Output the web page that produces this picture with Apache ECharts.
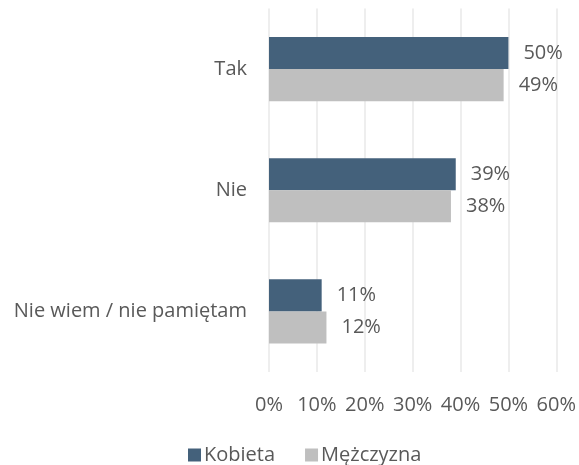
<!DOCTYPE html>
<html><head><meta charset="utf-8">
<script src="https://cdn.jsdelivr.net/npm/echarts@6/dist/echarts.min.js"></script>
<style>html,body{margin:0;padding:0;background:#fff}#c{width:579px;height:465px}</style>
</head><body><div id="c"></div>
<script>
const categories = ['Tak', 'Nie', 'Nie wiem / nie pamiętam'];
const kobieta = [50, 39, 11];
const mezczyzna = [49, 38, 12];
const xTicks = [0, 10, 20, 30, 40, 50, 60];
const seriesNames = ['Kobieta', 'Mężczyzna'];

const FONT = 'Open Sans';
const FS = 20;
const chart = echarts.init(document.getElementById('c'));
const lbl = {show: true, position: 'right', distance: 15, formatter: p => p.value + '%', color: '#595959', fontSize: FS, fontFamily: FONT};
chart.setOption({
  animation: false,
  textStyle: {fontFamily: FONT},
  grid: {left: 269, right: 22, top: 8.5, bottom: 93, containLabel: false},
  legend: {
    data: seriesNames, top: 445, left: 188, padding: 0, itemWidth: 13, itemHeight: 13, itemGap: 30,
    icon: 'rect', textStyle: {color: '#595959', fontSize: FS, fontFamily: FONT, padding: [0, 0, 0, -2]}
  },
  xAxis: {
    type: 'value', min: 0, max: 60, interval: 10,
    axisLabel: {formatter: v => xTicks.includes(v) ? v + '%' : '', color: '#595959', fontSize: FS, fontFamily: FONT, margin: 23},
    axisLine: {show: false}, axisTick: {show: false},
    splitLine: {show: true, lineStyle: {color: '#E8E8E8', width: 1.5}}
  },
  yAxis: {
    type: 'category', data: categories, inverse: true,
    axisLabel: {color: '#595959', fontSize: FS, fontFamily: FONT, margin: 22},
    axisLine: {show: false}, axisTick: {show: false}
  },
  series: [
    {name: seriesNames[0], type: 'bar', data: kobieta, barGap: '0%', barCategoryGap: '47%',
     itemStyle: {color: '#44617B'}, label: lbl},
    {name: seriesNames[1], type: 'bar', data: mezczyzna,
     itemStyle: {color: '#BFBFBF'}, label: lbl}
  ]
});
</script></body></html>
